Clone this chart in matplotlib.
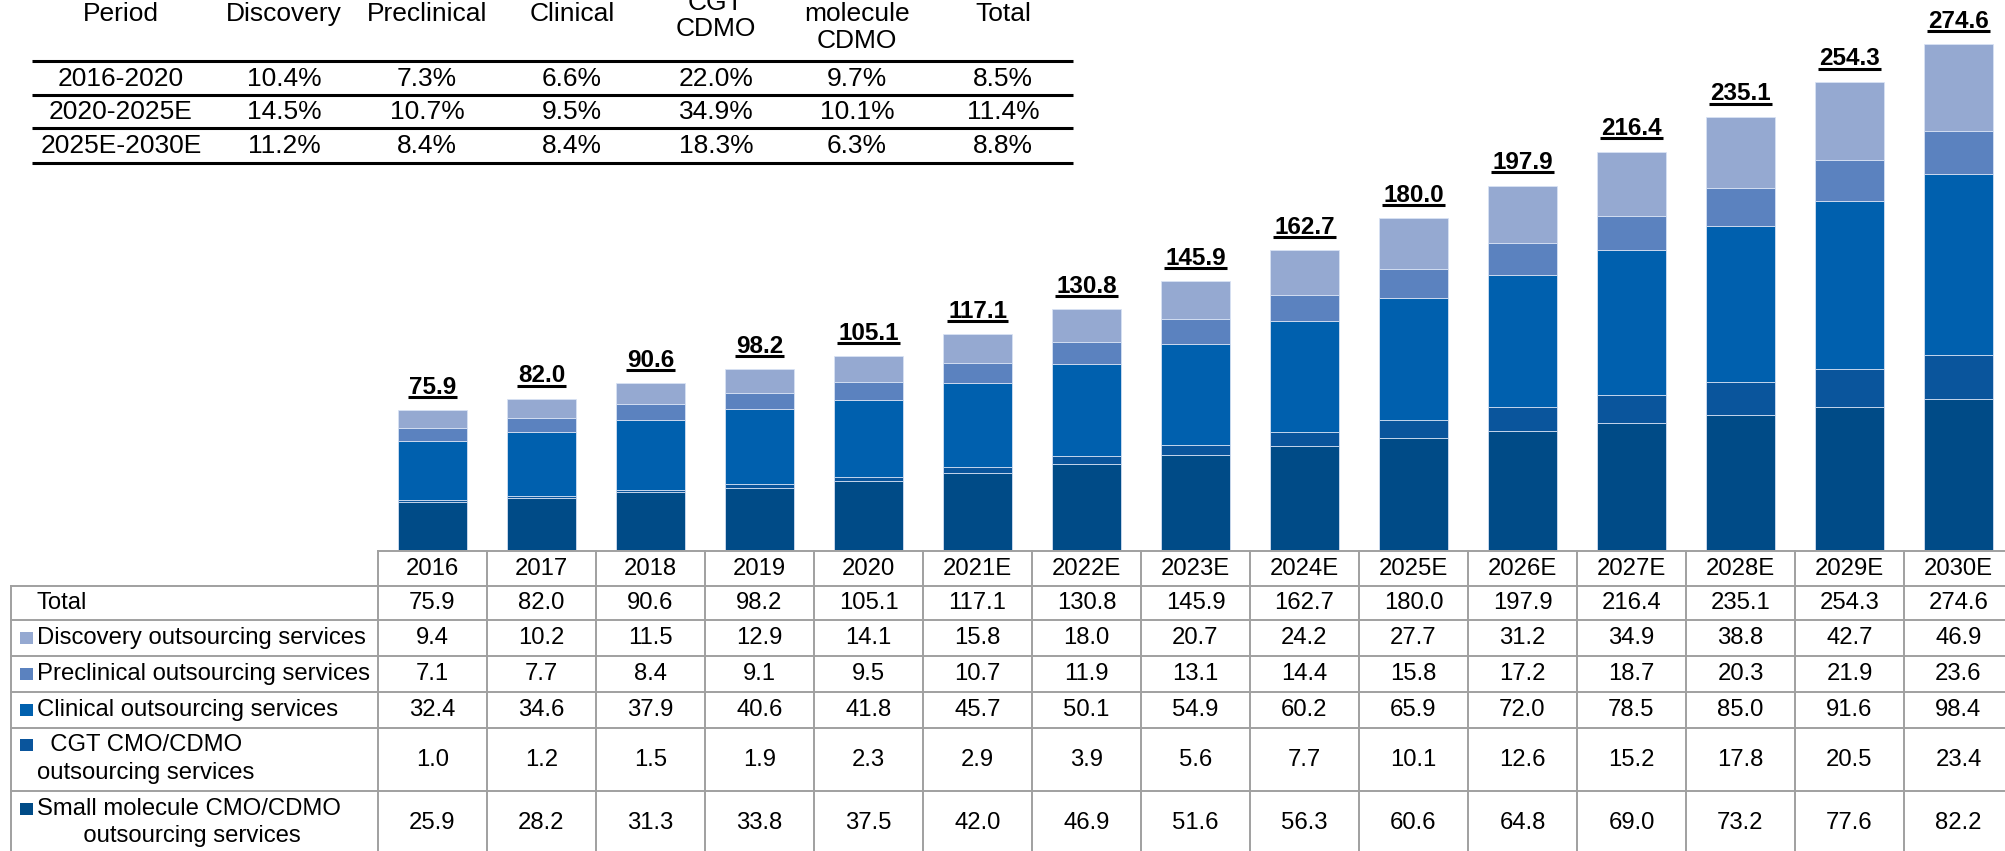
import numpy as np
import matplotlib
matplotlib.use('Agg')
import matplotlib.pyplot as plt
from matplotlib.patches import Rectangle
from matplotlib.lines import Line2D

plt.rcParams['font.family'] = ['Liberation Sans', 'DejaVu Sans']

# data
years = ['2016', '2017', '2018', '2019', '2020', '2021E', '2022E', '2023E',
         '2024E', '2025E', '2026E', '2027E', '2028E', '2029E', '2030E']
total = [75.9, 82.0, 90.6, 98.2, 105.1, 117.1, 130.8, 145.9, 162.7, 180.0,
         197.9, 216.4, 235.1, 254.3, 274.6]
discovery = [9.4, 10.2, 11.5, 12.9, 14.1, 15.8, 18.0, 20.7, 24.2, 27.7,
             31.2, 34.9, 38.8, 42.7, 46.9]
preclinical = [7.1, 7.7, 8.4, 9.1, 9.5, 10.7, 11.9, 13.1, 14.4, 15.8,
               17.2, 18.7, 20.3, 21.9, 23.6]
clinical = [32.4, 34.6, 37.9, 40.6, 41.8, 45.7, 50.1, 54.9, 60.2, 65.9,
            72.0, 78.5, 85.0, 91.6, 98.4]
cgt = [1.0, 1.2, 1.5, 1.9, 2.3, 2.9, 3.9, 5.6, 7.7, 10.1,
       12.6, 15.2, 17.8, 20.5, 23.4]
small_mol = [25.9, 28.2, 31.3, 33.8, 37.5, 42.0, 46.9, 51.6, 56.3, 60.6,
             64.8, 69.0, 73.2, 77.6, 82.2]

cagr_header = ['Period', 'Discovery', 'Preclinical', 'Clinical', 'CGT\nCDMO',
               'Small\nmolecule\nCDMO', 'Total']
cagr_periods = ['2016-2020', '2020-2025E', '2025E-2030E']
cagr_values = [['10.4%', '7.3%', '6.6%', '22.0%', '9.7%', '8.5%'],
               ['14.5%', '10.7%', '9.5%', '34.9%', '10.1%', '11.4%'],
               ['11.2%', '8.4%', '8.4%', '18.3%', '6.3%', '8.8%']]

# bottom to top
series = [small_mol, cgt, clinical, preclinical, discovery]
colors = ['#004b87', '#0a559c', '#0060ae', '#5b82bf', '#95a9d1']

row_labels = ['Total', 'Discovery outsourcing services',
              'Preclinical outsourcing services', 'Clinical outsourcing services',
              '  CGT CMO/CDMO\noutsourcing services',
              'Small molecule CMO/CDMO\n       outsourcing services']
row_values = [total, discovery, preclinical, clinical, cgt, small_mol]
row_colors = [None, colors[4], colors[3], colors[2], colors[1], colors[0]]

W, H = 2005, 851
fig = plt.figure(figsize=(W / 100, H / 100), dpi=100)

# overlay axes in pixel coords (y down)
ax0 = fig.add_axes([0, 0, 1, 1])
ax0.set_xlim(0, W)
ax0.set_ylim(H, 0)
ax0.axis('off')

# bars
col0, colw = 378, 109
base = 550
scale = 1.842
ax = fig.add_axes([col0 / W, (H - base) / H, 15 * colw / W, base / H])
ax.set_xlim(-0.5, 14.5)
ax.set_ylim(0, base / scale)
ax.axis('off')

x = np.arange(len(years))
bottom = np.zeros(len(years))
for vals, c in zip(series, colors):
    ax.bar(x, vals, 0.627, bottom=bottom, color=c,
           edgecolor=(0.85, 0.89, 0.96, 0.8), linewidth=0.7)
    bottom += np.array(vals)

lab_off = 16.5 / scale
labels = []
for i, t in enumerate(total):
    labels.append(ax.text(i, t + lab_off, f'{t:.1f}', ha='center', va='baseline',
                          fontsize=17.5, fontweight='bold'))

# CAGR table at top
fs_top = 19
hx = [121, 284, 427, 572, 716, 857, 1003]
for xx, h in zip(hx, cagr_header):
    yy = 14 if h.count('\n') != 1 else 16
    ax0.text(xx, yy, h, ha='center', va='center', fontsize=fs_top, linespacing=1.15)
for yl in [61, 95, 128, 163]:
    ax0.plot([32, 1073], [yl, yl], color='black', lw=2.2, solid_capstyle='butt')
for r, (p, vals) in enumerate(zip(cagr_periods, cagr_values)):
    yy = [79, 112, 146][r]
    ax0.text(hx[0], yy, p, ha='center', va='center', fontsize=fs_top)
    for xx, v in zip(hx[1:], vals):
        ax0.text(xx, yy, v, ha='center', va='center', fontsize=fs_top)

# data table at bottom
fs = 17.2
gc = '#a0a0a0'
lw = 1.4
row_lines = [586, 620, 656, 692, 728, 791]
ax0.plot([col0, W], [551, 551], color=gc, lw=lw)
for yl in row_lines:
    ax0.plot([11, W], [yl, yl], color=gc, lw=lw)
ax0.plot([11, 11], [586, H], color=gc, lw=lw)
for k in range(16):
    ax0.plot([col0 + k * colw] * 2, [551, H], color=gc, lw=lw)

for i, y in enumerate(years):
    ax0.text(col0 + (i + 0.5) * colw, 569, y, ha='center', va='center', fontsize=fs)

row_cy = [603, 638, 674, 710, 760, 823]
for r, (lab, vals, c) in enumerate(zip(row_labels, row_values, row_colors)):
    cy = row_cy[r]
    if r < 4:
        ax0.text(37, cy, lab, ha='left', va='center', fontsize=fs)
    else:
        l1, l2 = lab.split('\n')
        y1, y2 = (745, 773) if r == 4 else (809, 836)
        ax0.text(37, y1, l1, ha='left', va='center', fontsize=fs)
        ax0.text(37, y2, l2, ha='left', va='center', fontsize=fs)
    if c is not None:
        sy = cy if r < 4 else (745 if r == 4 else 809)
        ax0.add_patch(Rectangle((20, sy - 6), 13, 12, color=c, lw=0))
    for i, v in enumerate(vals):
        ax0.text(col0 + (i + 0.5) * colw, cy, f'{v:.1f}', ha='center', va='center',
                 fontsize=fs)

# underline totals
fig.canvas.draw()
rend = fig.canvas.get_renderer()
for i, (t, txt) in enumerate(zip(total, labels)):
    bb = txt.get_window_extent(rend)
    yb = ax.transData.transform((i, t + lab_off))[1] - 3.5
    fig.add_artist(Line2D([(bb.x0 - 1) / W, (bb.x1 + 1) / W], [yb / H, yb / H],
                          transform=fig.transFigure, color='black', lw=2.2,
                          solid_capstyle='butt'))

fig.savefig('out.png', dpi=100)
